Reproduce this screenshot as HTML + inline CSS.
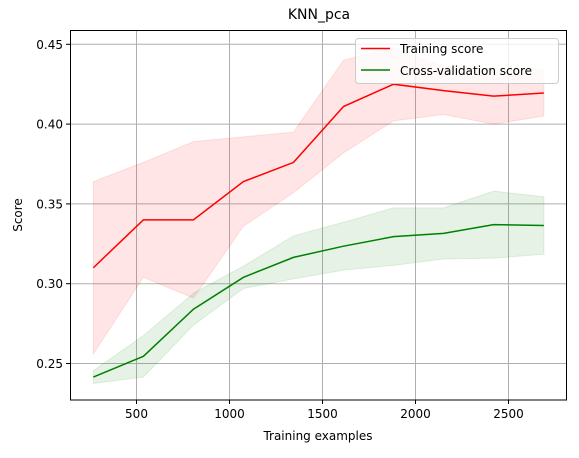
<!DOCTYPE html>
<html><head><meta charset="utf-8"><style>
body{margin:0;background:#fff;}
svg text{font-family:"DejaVu Sans","Liberation Sans",sans-serif;fill:#000;}
</style></head><body>
<svg id="chart" width="579" height="453" xmlns="http://www.w3.org/2000/svg">
<rect width="579" height="453" fill="#fff"/>
<g id="grid"></g>
<g id="bands"></g>
<g id="lines"></g>
<rect x="70.5" y="30.5" width="496" height="369.5" fill="none" stroke="#000" stroke-width="1"/>
<g id="ticks"></g>
<text x="319" y="19" font-size="14" text-anchor="middle">KNN_pca</text>
<text x="318" y="440" font-size="12" text-anchor="middle">Training examples</text>
<text transform="translate(22,215) rotate(-90)" font-size="12" text-anchor="middle">Score</text>
<g>
<rect x="355.5" y="38.5" width="203" height="45" rx="3" fill="#fff" fill-opacity="0.8" stroke="#ccc"/>
<line x1="361" y1="48.5" x2="390" y2="48.5" stroke="#ff0000" stroke-width="1.5"/>
<text x="400" y="53" font-size="12">Training score</text>
<line x1="361" y1="70" x2="390" y2="70" stroke="#008000" stroke-width="1.5"/>
<text x="400" y="75" font-size="12">Cross-validation score</text>
</g>
</svg>
<script>
const trainSizes=[268,537,806,1075,1344,1613,1882,2151,2420,2690];
const trainMean=[0.310,0.340,0.340,0.364,0.376,0.411,0.425,0.421,0.4175,0.4195];
const trainStd=[0.054,0.036,0.049,0.028,0.019,0.029,0.023,0.015,0.0175,0.0145];
const cvMean=[0.2415,0.2545,0.284,0.304,0.3165,0.3235,0.3295,0.3315,0.337,0.3365];
const cvStd=[0.004,0.013,0.010,0.007,0.0135,0.015,0.018,0.016,0.021,0.018];
const xTicks=[500,1000,1500,2000,2500];
const yTicks=[0.25,0.30,0.35,0.40,0.45];
const NS="http://www.w3.org/2000/svg";
function xs(v){return 136.5+(v-500)*0.186;}
function ys(v){return 44.3+(0.45-v)*1596;}
function mk(tag,attrs,parent){const e=document.createElementNS(NS,tag);for(const k in attrs)e.setAttribute(k,attrs[k]);document.getElementById(parent).appendChild(e);return e;}
xTicks.forEach(t=>{
  const x=xs(t);
  const g=mk('line',{x1:x,y1:30,x2:x,y2:400,stroke:'#b0b0b0','stroke-width':1},'grid');
  
  
  mk('line',{x1:x,y1:400,x2:x,y2:404,stroke:'#000'},'ticks');
  const l=mk('text',{x:x,y:418,'font-size':12,'text-anchor':'middle'},'ticks');
  l.textContent=t;
  
  
});
yTicks.forEach(t=>{
  const y=ys(t);
  const g=mk('line',{x1:70,y1:y,x2:566,y2:y,stroke:'#b0b0b0','stroke-width':1},'grid');
  
  
  mk('line',{x1:66,y1:y,x2:70,y2:y,stroke:'#000'},'ticks');
  const l=mk('text',{x:63,y:y+4.5,'font-size':12,'text-anchor':'end'},'ticks');
  l.textContent=t.toFixed(2);
  
  
});
function band(mean,std,color,name){
  const up=trainSizes.map((s,i)=>xs(s)+','+ys(mean[i]+std[i]));
  const lo=trainSizes.map((s,i)=>xs(s)+','+ys(mean[i]-std[i])).reverse();
  const p=mk('polygon',{points:up.concat(lo).join(' '),fill:color,'fill-opacity':0.1,stroke:color,'stroke-opacity':0.1},'bands');
  
  
}
function line(mean,color,name){
  const p=mk('polyline',{points:trainSizes.map((s,i)=>xs(s)+','+ys(mean[i])).join(' '),fill:'none',stroke:color,'stroke-width':1.5},'lines');
  
  
}
band(trainMean,trainStd,'#ff0000','training-band');
band(cvMean,cvStd,'#008000','cv-band');
line(trainMean,'#ff0000','training-line');
line(cvMean,'#008000','cv-line');
</script>
</body></html>
